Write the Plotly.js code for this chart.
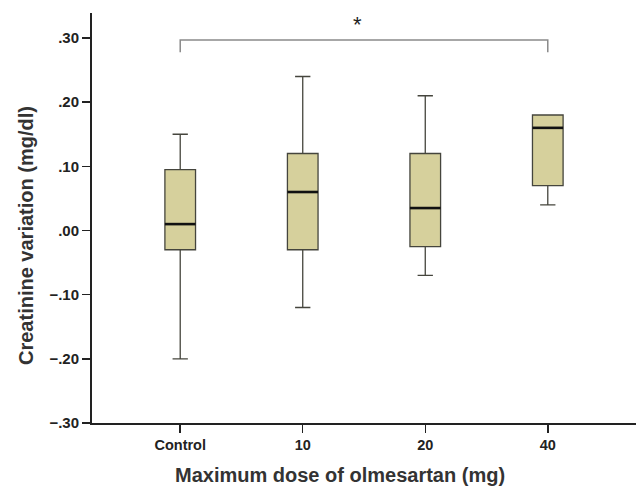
<!DOCTYPE html>
<html>
<head>
<meta charset="utf-8">
<script src="https://cdn.plot.ly/plotly-3.0.1.min.js"></script>
<style>html,body{margin:0;padding:0;background:#fff;}#chart{width:638px;height:487px;}</style>
</head>
<body>
<div id="chart"></div>
<script>
const categories = ["Control", "10", "20", "40"];
const lowerWhisker = [-0.20, -0.12, -0.07, 0.04];
const q1 = [-0.03, -0.03, -0.025, 0.07];
const median = [0.01, 0.06, 0.035, 0.16];
const q3 = [0.095, 0.12, 0.12, 0.18];
const upperWhisker = [0.15, 0.24, 0.21, 0.18];
const yTickVals = [-0.30, -0.20, -0.10, 0.00, 0.10, 0.20, 0.30];
const yTickText = ["−.30", "−.20", "−.10", ".00", ".10", ".20", ".30"];
const bracketFrom = "Control", bracketTo = "40";
const bracketTop = 0.297, bracketBottom = 0.278;
const sigLabel = "*";

const idx = categories.map((c, i) => i);
const boxW = 0.25;

const traces = [{
  type: "box",
  x: idx,
  q1: q1, median: median, q3: q3,
  lowerfence: lowerWhisker, upperfence: upperWhisker,
  width: boxW,
  whiskerwidth: 0.5,
  fillcolor: "#d6d09c",
  line: {color: "#45453d", width: 1.3},
  hoverinfo: "skip",
  showlegend: false
}];

const shapes = [];
median.forEach((m, i) => {
  shapes.push({type: "line", xref: "x", yref: "y", x0: i - boxW / 2, x1: i + boxW / 2, y0: m, y1: m,
    line: {color: "#111", width: 2.6}});
});
const bi = categories.indexOf(bracketFrom), bj = categories.indexOf(bracketTo);
shapes.push({type: "path", xref: "x", yref: "y",
  path: `M ${bi},${bracketBottom} L ${bi},${bracketTop} L ${bj},${bracketTop} L ${bj},${bracketBottom}`,
  line: {color: "#8a8a8a", width: 1.5}});

const F = "Liberation Sans, Arial, sans-serif";
const layout = {
  width: 638, height: 487,
  margin: {l: 92, r: 2, t: 13, b: 64},
  paper_bgcolor: "#fff", plot_bgcolor: "#fff",
  font: {family: F, color: "#222"},
  xaxis: {
    range: [-0.72, 3.72],
    tickvals: idx, ticktext: categories,
    showline: true, linecolor: "#222", linewidth: 2,
    ticks: "outside", ticklen: 8, tickwidth: 1.5, tickcolor: "#222",
    showgrid: false, zeroline: false,
    tickfont: {size: 14.5, family: F, weight: "bold", color: "#222"}
  },
  yaxis: {
    range: [-0.30, 0.339],
    tickvals: yTickVals, ticktext: yTickText,
    showline: true, linecolor: "#222", linewidth: 2,
    ticks: "outside", ticklen: 8, tickwidth: 1.5, tickcolor: "#222",
    showgrid: false, zeroline: false,
    tickfont: {size: 15, family: F, weight: "bold", color: "#222"}
  },
  shapes: shapes,
  annotations: [
    {text: sigLabel, xref: "x", yref: "y", x: (bi + bj) / 2 - 0.05, y: bracketTop, yanchor: "bottom", yshift: 1,
     showarrow: false, font: {size: 22, color: "#222"}},
    {text: "Maximum dose of olmesartan (mg)", xref: "paper", yref: "paper", x: (340 - 92) / 544, y: 0,
     yshift: -52, yanchor: "middle", xanchor: "center", showarrow: false,
     font: {size: 20, color: "#333", family: F, weight: "bold"}},
    {text: "Creatinine variation (mg/dl)", xref: "paper", yref: "paper", x: 0, xshift: -66,
     y: (423 - 236) / 410, textangle: -90, xanchor: "center", yanchor: "middle", showarrow: false,
     font: {size: 20, color: "#333", family: F, weight: "bold"}}
  ]
};

Plotly.newPlot("chart", traces, layout, {staticPlot: true, displayModeBar: false});
</script>
</body>
</html>
